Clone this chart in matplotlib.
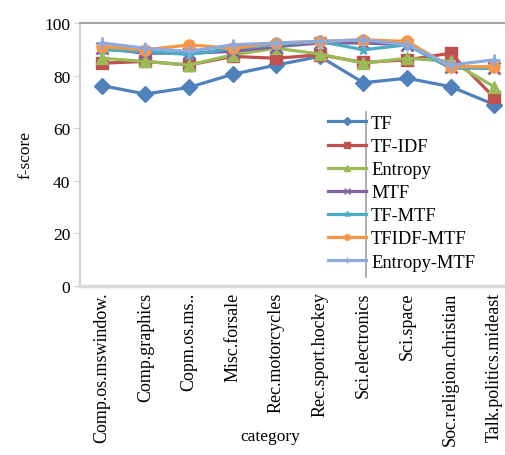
import matplotlib
matplotlib.use("Agg")
import matplotlib.pyplot as plt
from matplotlib.lines import Line2D

plt.rcParams['font.family'] = ['Liberation Serif', 'DejaVu Serif']

categories = ['Comp.os.mswindow.', 'Comp.graphics', 'Copm.os.ms..', 'Misc.forsale',
              'Rec.motorcycles', 'Rec.sport.hockey', 'Sci.electronics', 'Sci.space',
              'Soc.religion.christian', 'Talk.politics.mideast']

tf = [76.2, 73.0, 75.5, 80.5, 84.0, 87.3, 77.3, 79.0, 75.8, 69.0]
tf_idf = [84.7, 85.4, 84.0, 87.3, 86.6, 87.9, 85.0, 86.0, 88.5, 71.7]
entropy = [86.6, 85.4, 84.0, 87.9, 90.4, 88.2, 84.7, 86.6, 85.4, 75.8]
mtf = [90.4, 88.5, 88.5, 89.2, 91.0, 92.4, 92.4, 91.7, 83.4, 82.8]
tf_mtf = [89.8, 89.2, 88.0, 90.4, 91.7, 93.0, 89.8, 91.7, 82.8, 82.8]
tfidf_mtf = [91.0, 89.8, 91.7, 90.4, 92.4, 93.0, 93.6, 93.0, 83.4, 83.4]
entropy_mtf = [92.4, 90.4, 89.2, 91.7, 92.4, 93.0, 93.6, 91.7, 84.0, 86.0]

series = [
    ('TF', tf, '#4F81BD', 'D'),
    ('TF-IDF', tf_idf, '#C0504D', 's'),
    ('Entropy', entropy, '#9BBB59', '^'),
    ('MTF', mtf, '#8064A2', 'x'),
    ('TF-MTF', tf_mtf, '#4BACC6', '*'),
    ('TFIDF-MTF', tfidf_mtf, '#F79646', 'o'),
    ('Entropy-MTF', entropy_mtf, '#8EA9DB', '+'),
]

fig = plt.figure(figsize=(5.06, 4.56), dpi=100)
ax = fig.add_axes([80 / 506, 1 - 287 / 456, 436 / 506, 263 / 456])

x = list(range(len(categories)))
handles = []
for name, vals, col, mk in series:
    ax.plot(x, vals, color=col, lw=2.3, marker=mk, markersize=8,
            markeredgewidth=2 if mk in 'x+' else 1, markeredgecolor=col)
    handles.append(Line2D([], [], color=col, lw=2.3, marker=mk, markersize=4,
                          markeredgecolor=col))

ax.set_xlim(-0.5, 9.5)
ax.set_ylim(0, 100)
ax.set_yticks([0, 20, 40, 60, 80, 100])
ax.set_xticks(x)
ax.set_xticklabels(categories, rotation=90, fontsize=13)
ax.tick_params(axis='x', length=0, pad=4)
ax.tick_params(axis='y', labelsize=12.5, length=4, color='#D0D0D0', pad=3)

ax.spines['left'].set_color('#D0D0D0')
ax.spines['left'].set_linewidth(1.5)
ax.spines['bottom'].set_color('#D9D9D9')
ax.spines['bottom'].set_linewidth(2.5)
ax.spines['top'].set_color('#A6A6A6')
ax.spines['top'].set_linewidth(1.5)
ax.spines['right'].set_visible(False)

ax.set_ylabel('f-score', fontsize=12.5, labelpad=8)
fig.text(270 / 506, 1 - 437 / 456, 'category', fontsize=12.5, ha='center', va='center')

fig.legend(handles, [s[0] for s in series], loc='upper left',
           bbox_to_anchor=(315 / 506, 1 - 103 / 456), frameon=False,
           fontsize=13.3, handlelength=2.05, handletextpad=0.28, labelspacing=0.33,
           borderpad=0.2)
fig.add_artist(Line2D([366 / 506, 366 / 506], [1 - 113 / 456, 1 - 278 / 456],
                      color='#A0A0A0', lw=1.2, transform=fig.transFigure))

fig.savefig('out.png', dpi=100)
